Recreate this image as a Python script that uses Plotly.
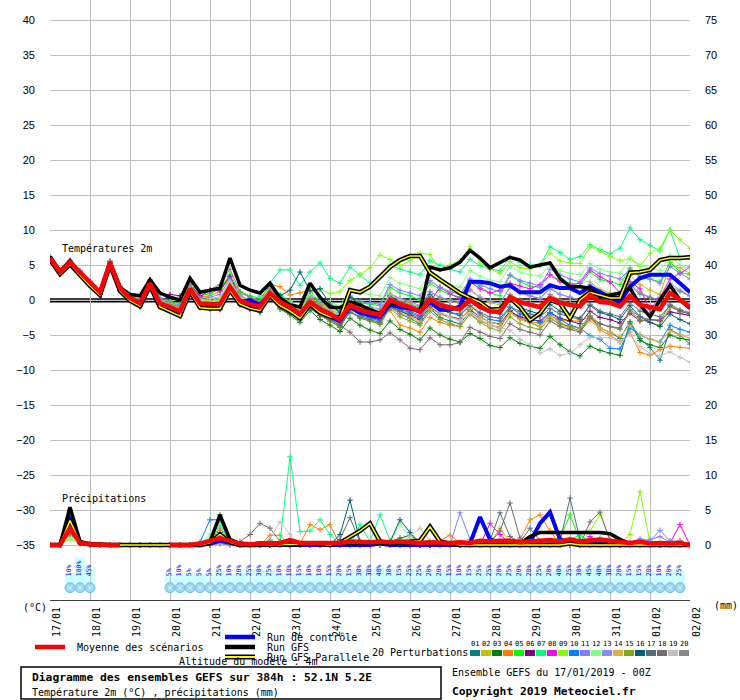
import plotly.graph_objects as go

MONO = "DejaVu Sans Mono"
SANS = "Liberation Sans"

# 6-hourly steps over 384h
STEPS = list(range(65))
HOURS = [6 * s for s in STEPS]
DAY_HOURS = list(range(0, 385, 24))
DAY_LABELS = ["17/01", "18/01", "19/01", "20/01", "21/01", "22/01", "23/01", "24/01",
              "25/01", "26/01", "27/01", "28/01", "29/01", "30/01", "31/01", "01/02", "02/02"]
TEMP_TICKS = list(range(-35, 41, 5))
PRECIP_TICKS = list(range(0, 76, 5))

# --- temperature 2m (degC) ---
T_MEAN = [6.0, 4.0, 5.4, 3.9, 2.4, 1.1, 5.3, 1.7, 0.3, -0.5, 2.4, -0.5, -1.0, -1.6, 1.6, -0.5, -0.6, -0.6, 1.9, -0.1,
          -0.6, -1.0, 1.0, -0.3, -1.0, -2.0, -0.3, -1.3, -2.0, -2.8, -0.7, -1.4, -1.8, -2.1, 0.0, -0.6, -1.0, -1.7, 0.1, -0.7,
          -1.1, -1.3, 0.0, -1.0, -1.6, -1.7, 0.4, -0.3, -0.7, -1.0, 0.3, -0.4, -0.7, -0.9, 0.7, -0.3, -0.4, -0.9, 0.6, -0.7,
          -1.0, -1.3, 1.0, 0.0, -1.0]
T_CONTROL = [6.0, 4.0, 5.4, 3.9, 2.4, 1.1, 5.3, 1.7, 0.3, -0.5, 2.4, -0.6, -1.1, -1.7, 1.6, -0.7, -0.7, -0.8, 1.8, -0.3,
             0.0, -0.7, 0.8, -0.6, -1.4, -2.4, -0.6, -1.6, -2.4, -3.0, -1.0, -1.8, -2.2, -2.4, -0.6, -1.0, -1.2, -1.6, -0.3, -1.4,
             -1.4, -0.9, 2.6, 2.6, 2.4, 1.9, 2.1, 1.1, 1.1, 1.1, 2.1, 1.7, 1.7, 1.0, 1.9, 1.1, 0.4, -0.3, 1.9, 3.1,
             3.6, 3.6, 3.6, 2.4, 1.1]
T_GFS = [6.2, 4.1, 5.6, 3.7, 2.2, 0.9, 5.4, 1.8, 0.8, 0.6, 2.9, 1.0, 0.4, 0.0, 3.1, 1.1, 1.4, 1.7, 6.0, 2.1,
         1.4, 1.0, 2.4, 0.3, -0.7, -1.0, 2.4, 0.4, -1.0, -1.1, -0.3, -0.7, -1.4, -1.9, -0.4, -0.6, -1.2, -1.6, 4.7, 4.3,
         4.6, 5.4, 7.1, 6.0, 4.6, 5.4, 6.1, 5.7, 4.7, 5.0, 5.3, 3.1, 1.9, 1.9, 1.7, 0.4, 0.7, 1.0, 1.7, -0.7,
         -2.4, 0.0, 2.1, 0.0, -1.2]
T_PARALLEL = [5.8, 3.7, 5.1, 3.5, 2.0, 0.7, 5.0, 1.3, -0.1, -0.9, 2.0, -1.0, -1.6, -2.3, 1.2, -1.1, -1.2, -1.2, 1.4, -0.6,
              -1.2, -1.5, 0.6, -0.8, -1.6, -2.6, -0.6, -1.8, -2.4, -2.5, 1.4, 1.1, 1.9, 3.3, 4.7, 5.7, 6.3, 6.3, 3.9, 2.9,
              1.9, 1.0, 0.3, -0.3, -1.4, -1.3, 0.3, -1.0, -2.9, -1.9, 0.0, -0.5, -2.6, 0.0, 1.1, 0.7, 0.3, 0.3, 3.9, 4.0,
              4.3, 5.7, 6.0, 6.0, 6.1]

T_P01 = [5.8, 3.8, 5.2, 3.6, 2.1, 0.8, 5.0, 1.4, 0.0, -0.9, 2.0, -0.9, -1.5, -2.1, 1.2, -1.0, -1.2, -1.3, 1.3, -0.6,
         -1.2, -1.6, 0.4, -1.0, -1.7, -2.8, -1.0, -2.2, -3.0, -3.9, -1.5, -2.6, -3.0, -3.4, -1.0, -2.0, -2.6, -3.4, -1.2, -2.5,
         -3.0, -3.4, -1.6, -2.8, -3.6, -4.0, -1.5, -2.6, -3.2, -3.8, -2.0, -3.3, -3.9, -4.4, -2.3, -4.0, -4.6, -5.5, -3.1, -5.5,
         -6.8, -8.6, -4.2, -5.0, -6.3]
T_P02 = [6.1, 4.1, 5.6, 4.0, 2.5, 1.2, 5.4, 1.8, 0.4, -0.3, 2.6, -0.2, -0.8, -1.4, 1.9, -0.2, -0.4, -0.3, 2.3, 0.2,
         -0.3, -0.8, 1.4, 0.2, -0.6, -1.5, 0.4, -0.6, -1.4, -2.2, 0.0, -0.8, -1.1, -1.6, 1.0, 0.2, -0.4, -1.0, 1.2, 0.3,
         -0.2, -0.5, 1.6, 0.4, -0.4, -0.7, 2.0, 1.2, 0.6, 0.2, 1.8, 0.8, 0.4, 0.0, 2.6, 1.5, 1.0, 0.3, 3.5, 2.2,
         1.4, 0.8, 5.0, 4.6, 3.8]
T_P03 = [5.9, 3.9, 5.3, 3.7, 2.2, 0.9, 5.1, 1.5, 0.1, -0.8, 2.1, -0.8, -1.3, -2.0, 1.3, -0.9, -1.1, -1.1, 1.4, -0.5,
         -1.1, -1.7, 0.3, -1.3, -2.1, -3.2, -1.5, -2.8, -3.6, -4.5, -2.6, -3.6, -4.3, -4.8, -3.0, -4.2, -4.9, -5.7, -4.0, -5.0,
         -5.6, -6.0, -4.8, -5.5, -6.5, -6.8, -5.4, -6.2, -6.6, -6.9, -5.2, -6.4, -7.4, -8.0, -6.6, -7.2, -7.6, -7.9, -3.3, -5.8,
         -6.4, -6.8, -5.0, -5.5, -5.7]
T_P04 = [6.0, 4.0, 5.5, 3.9, 2.4, 1.1, 5.2, 1.8, 0.5, -0.2, 2.6, 0.0, -0.4, -0.8, 2.2, 0.4, 0.6, 1.2, 3.3, 1.0,
         0.4, -0.2, 2.2, 1.9, 0.7, 1.0, 1.4, -0.5, -1.2, -2.0, -0.4, -1.5, -2.0, -2.6, -1.5, -3.6, -4.0, -4.6, -2.5, -3.2,
         -3.6, -3.8, -2.0, -3.0, -3.6, -3.9, -1.8, -2.6, -3.0, -3.4, -2.2, -2.9, -3.0, -3.0, -2.4, -4.3, -5.0, -6.0, -4.6, -7.5,
         -7.9, -7.1, -6.6, -6.8, -6.9]
T_P05 = [6.1, 4.2, 5.6, 4.1, 2.6, 1.3, 5.5, 1.9, 0.6, 0.0, 2.8, 0.3, -0.2, -0.6, 2.4, 0.6, 0.9, 1.6, 3.6, 1.2,
         0.6, 0.2, 2.0, 0.8, -0.2, -1.2, 0.6, -0.4, -1.0, -1.8, 0.2, -0.4, -0.6, -0.8, 1.8, 1.0, 0.6, 0.0, 2.4, 1.4,
         0.8, 0.4, 2.8, 1.9, 1.0, 0.6, 3.5, 2.6, 2.0, 1.8, 3.6, 2.8, 2.4, 2.0, 4.0, 2.9, 2.6, 2.2, 4.6, 3.3,
         3.0, 2.6, 5.4, 4.0, 3.6]
T_P06 = [6.0, 4.1, 5.5, 4.0, 2.5, 1.2, 5.4, 1.7, 0.4, -0.4, 2.5, -0.3, 0.8, 0.6, 2.3, 0.5, 1.4, 1.4, 3.4, 0.4,
         -0.2, -0.8, 1.2, -0.2, -0.9, -2.0, -0.2, -1.3, -2.2, -3.0, -1.0, -1.9, -2.5, -2.8, -0.8, -1.6, -2.2, -2.8, -1.0, -2.0,
         -2.4, -2.7, -1.4, -2.4, -3.2, -3.4, -1.6, -2.4, -2.8, -3.0, -1.8, -2.6, -3.0, -3.4, -1.6, -2.5, -2.8, -3.3, -1.9, -3.0,
         -2.8, -2.9, -1.7, -1.9, -2.2]
T_P07 = [6.1, 4.1, 5.5, 4.0, 2.5, 1.2, 5.4, 1.8, 0.5, -0.2, 2.6, 0.0, -0.5, -1.0, 2.0, 0.0, 0.2, 0.3, 2.6, 0.8,
         -0.2, 0.6, 2.4, 4.3, 4.3, 2.1, 4.0, 5.3, 3.1, 2.4, 4.7, 3.6, 2.4, 3.2, 5.0, 4.4, 4.0, 3.6, 5.6, 5.0,
         4.4, 4.0, 5.8, 4.9, 4.4, 4.2, 6.1, 5.4, 5.0, 4.9, 7.6, 6.8, 5.8, 6.2, 7.9, 7.2, 6.6, 7.4, 10.3, 8.6,
         7.8, 7.0, 10.0, 5.9, 6.3]
T_P08 = [6.0, 4.0, 5.4, 3.9, 2.4, 1.1, 5.2, 1.6, 0.2, -0.6, 2.3, -0.6, -1.1, -1.7, 1.5, -0.6, -0.7, -0.8, 1.7, -0.3,
         -0.8, -1.2, 0.8, -0.6, -1.3, -2.3, -0.6, -1.6, -2.4, -3.3, -1.1, -1.9, -2.3, -2.7, -0.5, -1.2, -1.6, -2.2, -0.3, 1.8,
         0.9, 0.2, 2.6, 1.6, 1.0, 1.4, 2.4, 2.0, 1.6, 2.2, 3.6, 2.6, 2.2, 2.4, 4.3, 3.3, 2.6, 1.0, 2.6, 1.6,
         -1.4, 0.4, 3.0, 3.8, 4.7]
T_P09 = [6.1, 4.1, 5.5, 4.0, 2.5, 1.2, 5.3, 1.7, 0.4, -0.3, 2.5, -0.2, -0.6, -1.2, 1.9, -0.2, -0.1, 0.2, 2.4, 0.3,
         -0.1, -0.5, 1.4, 0.4, -0.2, -1.0, 1.0, 1.6, 0.9, 1.2, 2.8, 3.6, 4.6, 6.4, 5.8, 4.9, 5.6, 6.7, 6.5, 4.3,
         5.0, 5.6, 7.6, 5.4, 4.4, 3.8, 5.5, 4.6, 4.4, 5.0, 6.7, 5.6, 5.3, 5.2, 7.6, 6.9, 6.2, 5.6, 5.9, 4.8,
         6.7, 7.4, 10.0, 8.6, 7.4]
T_P10 = [5.9, 3.9, 5.3, 3.8, 2.3, 1.0, 5.2, 1.6, 0.2, -0.7, 2.2, -0.7, -1.2, -1.9, 1.3, -0.8, -0.9, -1.0, 1.5, -0.4,
         -1.0, -1.4, 0.6, -0.7, -1.4, -2.4, -0.6, -1.8, -2.6, -3.4, -1.2, -2.2, -2.6, -3.0, -0.6, -1.4, -1.8, -2.4, -0.3, -1.4,
         -1.8, -2.2, -0.8, -2.0, -2.8, -3.0, -1.0, -2.0, -2.6, -3.2, -1.8, -2.8, -3.6, -4.0, -5.1, -5.6, -6.9, -7.0, -4.0, -5.0,
         -5.6, -6.0, -3.6, -4.2, -4.6]
T_P11 = [6.2, 4.2, 5.7, 4.2, 2.7, 1.4, 5.6, 2.0, 0.7, 0.1, 2.9, 0.3, -0.2, -0.8, 2.2, 0.2, 0.4, 0.8, 3.0, 0.6,
         0.0, -0.4, 1.6, 0.4, -0.3, -1.3, 0.8, -0.2, -0.8, -1.6, 0.6, -0.2, -0.4, -0.6, 2.2, 1.4, 1.0, 0.6, 2.8, 1.8,
         1.2, 0.8, 3.0, 2.2, 1.6, 1.2, 3.6, 2.8, 2.4, 2.0, 4.4, 3.6, 3.0, 2.6, 4.6, 3.8, 3.4, 3.0, 4.4, 3.4,
         3.0, 2.4, 4.8, 3.8, 3.0]
T_P12 = [6.1, 4.0, 5.5, 4.0, 2.5, 1.2, 5.3, 1.8, 0.4, -0.4, 2.5, -0.4, -0.8, -1.4, 1.8, -0.3, -0.3, -0.1, 2.2, 0.0,
         -0.4, -0.6, 1.4, 0.2, -0.4, -1.2, 0.8, 0.2, -0.4, -0.9, 1.6, 1.0, 0.8, 0.6, 3.2, 2.4, 2.0, 1.6, 3.6, 2.6,
         2.2, 1.8, 4.2, 3.4, 2.8, 2.6, 4.8, 4.0, 3.6, 3.4, 5.0, 4.2, 3.8, 3.6, 5.2, 4.4, 4.0, 3.8, 6.0, 5.0,
         4.6, 4.2, 6.4, 5.0, 4.4]
T_P13 = [6.0, 4.0, 5.4, 3.9, 2.4, 1.1, 5.3, 1.7, 0.3, -0.5, 2.4, -0.4, -0.9, -1.5, 1.7, -0.4, -0.5, -0.4, 2.1, 0.0,
         -0.5, -0.9, 1.1, -0.2, -0.9, -1.8, -0.1, -1.0, -1.7, -2.4, -0.2, -0.8, -1.0, -1.3, 0.8, 0.2, -0.2, -0.8, 1.2, 0.4,
         0.0, -0.3, 1.4, 0.4, -0.2, -0.4, 1.8, 1.0, 0.6, 0.2, 1.6, 0.8, 0.4, 0.0, 2.2, 1.2, 0.8, 0.2, 2.0, 0.8,
         0.4, 0.0, 2.4, 1.4, 0.6]
T_P14 = [5.9, 3.9, 5.3, 3.8, 2.3, 1.0, 5.2, 1.6, 0.2, -0.6, 2.3, -0.6, -1.2, -1.8, 1.4, -0.7, -0.8, -0.9, 1.6, -0.4,
         -0.9, -1.4, 0.6, -0.7, -1.5, -2.5, -0.8, -1.9, -2.7, -3.6, -1.5, -2.4, -2.9, -3.3, -1.0, -1.9, -2.4, -3.1, -1.2, -2.0,
         -2.5, -2.8, -1.2, -2.4, -3.2, -3.5, -1.8, -2.8, -3.3, -3.8, -2.4, -3.6, -4.0, -4.4, -3.0, -4.0, -4.6, -5.2, -3.6, -5.0,
         -5.6, -6.0, -4.4, -5.0, -5.4]
T_P15 = [5.9, 3.8, 5.2, 3.7, 2.2, 0.9, 5.1, 1.5, 0.1, -0.8, 2.1, -0.8, -1.4, -2.1, 1.2, -1.0, -1.2, -1.3, 1.3, -0.7,
         -1.2, -1.6, 0.4, -1.0, -1.8, -2.8, -1.1, -2.2, -3.0, -3.8, -1.6, -2.6, -3.0, -3.5, -1.2, -2.4, -3.0, -3.6, -1.6, -2.8,
         -3.4, -3.8, -2.0, -3.2, -4.0, -4.4, -2.4, -3.4, -3.9, -4.2, -2.6, -3.4, -3.8, -4.0, -2.2, -3.4, -3.8, -4.2, -1.6, -2.8,
         -3.2, -3.6, -1.0, -1.6, -2.0]
T_P16 = [5.9, 3.9, 5.3, 3.8, 2.3, 1.0, 5.2, 1.6, 0.2, -0.6, 2.3, -0.6, -1.1, -1.8, 1.5, -0.6, -0.7, -0.7, 1.8, -0.2,
         -0.7, -1.0, 1.0, 0.6, 1.4, 4.0, 1.3, 1.6, -0.6, -1.8, 0.4, -0.6, -1.2, -1.8, 0.6, -0.2, -0.6, -1.2, 0.8, -0.4,
         -1.0, -1.4, 0.2, -1.0, -1.8, -2.0, 0.0, -1.0, -1.6, -2.0, -0.6, -1.6, -2.2, -2.6, -0.8, -1.8, -2.2, -2.8, -0.8, -2.4,
         -3.2, -3.8, -2.0, -2.8, -3.4]
T_P17 = [5.8, 3.8, 5.2, 3.6, 2.1, 0.8, 5.0, 1.4, 0.0, -0.9, 2.0, -0.9, -1.5, -2.3, 1.1, -1.1, -1.3, -1.4, 1.2, -0.7,
         -1.3, -1.8, 0.2, -1.1, -1.8, -2.8, -1.2, -2.2, -2.8, -3.6, -1.8, -2.4, -2.8, -3.2, -1.0, -1.6, -2.0, -2.6, -0.6, -1.4,
         -1.8, -2.0, -0.8, -1.8, -2.4, -2.6, -1.0, -1.6, -2.0, -2.4, -1.2, -2.0, -2.4, -2.8, -0.6, -1.6, -2.0, -2.4, -0.4, -1.6,
         -2.0, -2.4, -0.8, -1.6, -2.0]
T_P18 = [6.0, 4.0, 5.4, 3.9, 2.4, 1.1, 5.3, 1.7, 0.3, -0.5, 2.4, -0.5, -1.0, -1.7, 1.5, -0.6, -0.6, -0.7, 1.8, -0.3,
         -0.8, -1.3, 0.6, -0.7, -1.4, -2.5, -1.0, -2.2, -2.8, -3.6, -4.6, -6.0, -6.0, -5.7, -4.7, -5.7, -6.9, -7.1, -5.4, -6.4,
         -6.4, -6.1, -3.9, -4.6, -5.2, -5.5, -3.4, -4.2, -4.6, -5.0, -3.0, -3.8, -4.2, -4.6, -2.6, -3.4, -3.8, -4.0, -1.4, -2.4,
         -2.8, -3.0, -0.6, -1.4, -1.8]
T_P19 = [6.0, 4.0, 5.4, 3.9, 2.4, 1.1, 5.3, 1.7, 0.3, -0.5, 2.5, -0.3, -0.8, -1.2, 2.0, 0.0, 0.2, 0.4, 2.6, 0.4,
         0.0, -0.4, 1.4, 0.0, -0.8, -1.6, 0.2, -0.8, -1.4, -2.0, -0.2, -1.0, -1.4, -1.8, 0.8, 0.0, -0.6, -1.4, -0.4, -1.6,
         -2.4, -3.0, -1.8, -2.8, -3.6, -4.0, -4.3, -5.6, -6.4, -7.6, -7.0, -7.9, -7.6, -6.4, -5.3, -5.4, -5.4, -6.0, -5.0, -6.7,
         -7.6, -8.0, -7.4, -8.2, -8.9]
T_P20 = [6.1, 4.2, 5.6, 4.1, 2.6, 1.3, 5.6, 1.9, 0.5, -0.3, 2.7, -0.2, -0.6, -1.0, 2.2, 0.3, 1.5, 2.2, 4.4, 1.2,
         0.4, -0.2, 1.6, 0.2, -0.6, -1.6, 0.2, -0.8, -1.6, -2.4, -0.4, -1.2, -1.6, -2.0, 0.4, -0.4, -0.8, -1.4, 0.6, -0.4,
         -0.8, -1.2, 0.4, -0.6, -1.2, -1.4, 0.8, 0.0, -0.4, -0.8, 0.8, 0.0, -0.4, -0.8, 1.4, 0.4, 0.0, -0.6, 2.2, 1.0,
         0.4, -0.4, 2.0, 1.2, 0.6]

# --- precipitation per 6h (mm), right axis ---
P_MEAN = [0, 0, 2.4, 0.3, 0.1, 0, 0, 0, None, None, None, None, 0, 0, 0, 0.2, 0.6, 1.0, 0.6, 0.2,
          0.1, 0.2, 0.2, 0.3, 0.7, 0.3, 0.3, 0.3, 0.3, 0.3, 0.5, 0.4, 0.4, 0.5, 0.4, 0.5, 0.4, 0.3, 0.4, 0.3,
          0.3, 0.4, 0.3, 0.6, 0.5, 0.6, 0.6, 0.4, 0.5, 0.7, 0.7, 0.5, 0.8, 0.5, 0.6, 0.8, 0.6, 0.4, 0.3, 0.5,
          0.2, 0.3, 0.2, 0.3, 0]
P_CONTROL = [0, 0, 4.0, 0.4, 0.1, 0, 0, 0, 0, 0, 0, 0, 0, 0, 0, 0, 0.2, 0.6, 0.3, 0,
             0, 0, 0.1, 0, 0, 0, 0, 0, 0, 0, 0.1, 0, 0, 0.2, 0, 0, 0, 0, 0, 0,
             0, 0, 0.2, 4.0, 0.8, 0.3, 0.2, 0, 0.4, 3.1, 4.7, 0.8, 0.3, 0.2, 0.6, 0.4, 0.2, 0.1, 0, 0,
             0, 0.2, 0.1, 0, 0]
P_GFS = [0, 0, 5.4, 0.5, 0.1, 0, 0, 0, 0, 0, 0, 0, 0, 0, 0, 0, 0.5, 4.3, 0.8, 0.2,
         0.1, 0.3, 0.2, 0, 0, 0.2, 0.3, 0.2, 0.1, 0.1, 0.3, 0.2, 0.4, 0.2, 0.1, 0.3, 0.2, 0.1, 0.2, 0.1,
         0, 0, 0, 0, 0, 0, 0, 0.2, 1.2, 1.8, 1.8, 1.8, 1.8, 1.8, 1.8, 1.8, 1.6, 0.8, 0.2, 0,
         0, 0, 0, 0, 0]
P_PARALLEL = [0, 0, 3.5, 0.3, 0.1, 0, 0, 0, 0, 0, 0, 0, 0, 0, 0, 0, 0.3, 1.5, 0.4, 0,
              0, 0, 0, 0, 0, 0.1, 0.2, 0.1, 0, 0.3, 1.2, 2.0, 3.1, 0.5, 0.2, 0.3, 0.4, 0.6, 2.6, 0.5,
              0.2, 0, 0, 0, 0, 0.1, 0, 0, 0, 0, 0, 0, 0.2, 0, 0, 0, 0, 0, 0, 0,
              0, 0, 0, 0, 0]

P_P01 = [0, 0, 4.5, 0.4, 0.1, 0, 0, 0, 0, 0, 0, 0, 0, 0, 0, 0, 0.5, 1.2, 0.5, 0,
         0, 0, 0, 0, 0.2, 0, 0, 0, 0, 0, 0.3, 0.2, 0, 0, 0.3, 0.5, 0.2, 0, 0, 0,
         0, 0, 0, 0, 0, 0, 0.3, 0.2, 0, 0, 0, 0, 0.3, 0.6, 0.4, 0.2, 0, 0, 0, 0,
         0, 0, 0, 0, 0]
P_P02 = [0, 0, 3.0, 0.3, 0.1, 0, 0, 0, 0, 0, 0, 0, 0, 0, 0, 0, 0.2, 0.8, 0.3, 0,
         0, 0, 0, 0, 0, 0, 0, 0, 0, 0, 0, 0, 0, 0, 0, 0.3, 0.2, 0, 0, 0,
         0, 0, 0, 0, 0.3, 2.4, 0.4, 0, 0, 0, 0, 0, 0.2, 0, 0, 0, 0, 0, 0, 0,
         0, 0, 0, 0.2, 0]
P_P03 = [0, 0, 5.0, 0.5, 0.1, 0, 0, 0, 0, 0, 0, 0, 0, 0, 0, 0.2, 0.8, 4.3, 0.6, 0,
         0, 0, 0, 0, 0, 0, 0, 0, 0, 0, 0, 0, 0, 0.1, 0.5, 1.0, 1.4, 0.4, 0, 0,
         0, 0, 0, 0, 0, 0, 0, 0, 0, 0, 0, 0, 0, 0, 0, 0, 0, 0, 0, 0,
         0, 0, 0, 0, 0]
P_P04 = [0, 0, 3.8, 0.3, 0.1, 0, 0, 0, 0, 0, 0, 0, 0, 0, 0, 0, 0.4, 2.4, 0.5, 0,
         0, 0, 1.4, 1.4, 0, 0.2, 2.9, 2.2, 2.9, 0, 0, 0, 0, 0, 0, 0, 0, 0.2, 0.4, 0.6,
         1.4, 0.3, 0, 0, 0, 0, 0, 0.8, 3.6, 4.3, 2.0, 0.2, 0, 0, 0, 0, 0, 0, 0, 0,
         0, 0, 0, 0.4, 0]
P_P05 = [0, 0, 2.2, 0.2, 0.1, 0, 0, 0, 0, 0, 0, 0, 0, 0, 0, 0, 0.5, 3.8, 0.8, 0,
         0, 0, 0, 0, 0, 0, 0, 0, 0, 0, 0, 0, 0, 0, 0, 0, 0, 0, 0, 0,
         0, 0, 0, 0, 0, 0, 0, 0, 0, 0.3, 0.6, 1.0, 4.3, 0.6, 0, 0, 0, 0, 0, 0,
         0, 0, 0, 0, 0]
P_P06 = [0, 0, 4.2, 0.4, 0.1, 0, 0, 0, 0, 0, 0, 0, 0, 0, 0, 0, 0, 0.6, 0.3, 0,
         0, 0, 0, 0, 0, 0, 0, 0, 0, 0, 0, 0, 0, 0, 0, 0, 0, 0, 0, 0,
         0, 0, 0, 0, 0, 0, 0, 0, 0, 0, 0, 0, 0, 0, 0.4, 0.6, 0.3, 0, 0, 0,
         0, 0, 0, 0, 0]
P_P07 = [0, 0, 4.8, 0.5, 0.1, 0, 0, 0, 0, 0, 0, 0, 0, 0, 0, 0, 0.3, 2.8, 0.4, 0,
         0, 0, 0.2, 0.5, 12.6, 1.9, 2.0, 3.6, 1.5, 0, 0, 2.9, 0.5, 4.3, 0.6, 0.3, 0, 0, 0, 0,
         0, 0, 0, 0, 0, 0, 0, 0, 0, 0, 0, 0, 0.8, 1.4, 0.5, 0, 0, 0, 0, 0,
         0, 0, 0, 0, 0]
P_P08 = [0, 0, 3.2, 0.3, 0.1, 0, 0, 0, 0, 0, 0, 0, 0, 0, 0, 0, 0, 0.3, 0.1, 0,
         0, 0, 0, 0, 0, 0, 0, 0, 0, 0, 0, 0, 0, 0, 0, 0, 0, 0, 0, 0,
         0, 0, 0, 0, 3.1, 1.5, 0.2, 0, 0, 0, 0, 0, 0, 0, 1.2, 0.4, 0, 0, 0, 0,
         0, 0, 0.3, 2.9, 0]
P_P09 = [0, 0, 1.0, 0.2, 0, 0, 0, 0, 0, 0, 0, 0, 0, 0, 0, 0, 0.8, 3.5, 0.4, 0,
         0, 0, 0, 0, 0, 0, 0, 0, 0, 0, 0, 0, 0, 0, 0, 0, 0, 0, 0, 0,
         0, 0, 0, 0, 0, 0, 0, 0, 0, 0, 0, 0, 0, 0, 2.0, 4.4, 0.8, 0.2, 1.5, 7.6,
         0.3, 0, 0, 0, 0]
P_P10 = [0, 0, 4.4, 0.4, 0.1, 0, 0, 0, 0, 0, 0, 0, 0, 0, 0, 0.4, 3.6, 3.6, 0.2, 0,
         0, 0, 0, 0, 0, 0, 0, 0, 0, 0, 0, 0, 0, 0, 0, 0, 0, 0, 0, 0,
         0, 0, 0, 0, 0, 0, 0, 0, 0, 0, 0, 0.2, 0.4, 0.3, 0, 0, 0, 0, 0, 0,
         0, 0, 0, 0, 0]
P_P11 = [0, 0, 3.5, 0.3, 0.1, 0, 0, 0, 0, 0, 0, 0, 0, 0, 0, 0, 0, 0.4, 0.1, 0,
         0, 0, 0, 0, 0, 0, 0, 0, 0, 0, 0, 0, 0, 0, 0, 0, 0.3, 0.8, 0.2, 0,
         0, 4.6, 0.8, 0.2, 0, 0, 0, 0, 0, 0, 0, 0, 0, 0, 0, 0, 0, 0, 0.3, 0.9,
         0.6, 2.1, 0.6, 0.4, 0]
P_P12 = [0, 0, 0.8, 0.3, 0.1, 0, 0, 0, 0, 0, 0, 0, 0, 0, 0, 0, 1.5, 1.2, 0.3, 0,
         0, 0, 0, 0, 0, 0, 0, 0, 0, 0, 0, 0, 0.4, 0.6, 0.3, 3.0, 1.0, 0.4, 0, 0,
         0, 0, 0, 0, 0, 0, 0, 0, 0, 0, 0, 0, 0, 0, 0, 0, 0, 0, 0, 0,
         0, 0, 0, 0, 0]
P_P13 = [0, 0, 2.8, 0.3, 0.1, 0, 0, 0, 0, 0, 0, 0, 0, 0, 0, 0, 0, 0.3, 0.1, 0,
         0, 0, 0, 0, 0, 0, 0, 0, 0, 0, 0, 0, 0, 0, 0, 0, 0, 0, 0, 0,
         0, 0, 0, 0, 0, 0, 0, 0, 0, 0, 0, 0, 0, 0, 0, 0, 0, 0, 0.4, 0.3,
         0.8, 1.2, 0.4, 0, 0]
P_P14 = [0, 0, 2.5, 0.3, 0.1, 0, 0, 0, 0, 0, 0, 0, 0, 0, 0, 0, 0, 0.4, 0.1, 0,
         0, 0, 0, 0, 0, 0, 0, 0, 0, 0, 0, 0, 0, 0, 0, 0, 0, 0, 0, 0,
         0, 0, 0, 0, 0, 0, 0, 0.5, 0.8, 0.3, 0, 0, 0, 0, 0, 0, 0, 0, 0, 0,
         0, 0, 0.3, 0.6, 0]
P_P15 = [0, 0, 2.0, 0.2, 0.1, 0, 0, 0, 0, 0, 0, 0, 0, 0, 0, 0, 0, 0.5, 0.2, 0,
         0, 0, 0, 0, 0, 0, 0, 0, 0, 0, 0, 0, 0, 0, 0, 0, 0, 0, 0, 0,
         0, 0, 0, 0, 0, 0, 0, 0, 0, 0, 0, 0, 0, 0, 0.4, 1.0, 0.6, 0, 0, 0,
         0, 0, 0, 0, 0]
P_P16 = [0, 0, 4.6, 0.4, 0.1, 0, 0, 0, 0, 0, 0, 0, 0, 0, 0, 0, 0.3, 1.8, 0.3, 0,
         0, 0, 0, 0, 0, 0, 0, 0, 0, 1.5, 6.4, 0.5, 0, 0, 0.4, 3.6, 1.8, 0.3, 0, 0,
         0, 0, 0, 0, 0, 0, 0, 0, 0, 0, 0, 0, 0, 0, 0, 0, 0, 0, 0, 0,
         0, 0, 0, 0, 0]
P_P17 = [0, 0, 3.9, 0.4, 0.1, 0, 0, 0, 0, 0, 0, 0, 0, 0, 0, 0, 0, 0.6, 0.2, 0,
         0, 0, 0, 0, 0, 0, 0, 0, 0, 0.8, 3.9, 0.4, 0, 0, 0, 0, 0, 0, 0, 0,
         0, 0, 0, 0, 0.6, 4.6, 1.2, 0.4, 2.4, 0.6, 0.3, 0.5, 6.7, 0.8, 0.3, 0, 0, 0, 0, 0,
         0, 0, 0, 0, 0]
P_P18 = [0, 0, 1.5, 0.2, 0, 0, 0, 0, 0, 0, 0, 0, 0, 0, 0, 0, 0, 0.2, 0, 0.5,
         1.5, 3.1, 2.4, 0.5, 0, 0, 0, 0, 0, 0, 0, 0, 0, 0, 0, 0, 0, 0, 0, 0,
         0, 0, 0, 0, 0.3, 2.0, 6.0, 1.0, 0, 0, 0, 0, 0, 0, 3.3, 4.7, 0.6, 0, 0, 0,
         0, 0, 0, 0, 0]
P_P19 = [0, 0, 2.6, 0.3, 0.1, 0, 0, 0, 0, 0, 0, 0, 0, 0, 0, 0, 0, 0.3, 0.1, 0,
         0, 0, 0.8, 3.3, 1.5, 0, 0, 0, 0, 0, 0, 0, 0, 0, 0, 0.5, 1.2, 2.4, 0.6, 0,
         0, 0, 0, 0, 0, 0, 0, 0, 0, 0, 0, 0, 0, 0, 0, 0, 0, 0, 0, 0,
         0, 0, 0, 0, 0]
P_P20 = [0, 0, 1.7, 0.3, 0.1, 0, 0, 0, 0, 0, 0, 0, 0, 0, 0, 0, 0, 0.4, 0.2, 0,
         0, 0.2, 0.6, 0.4, 0, 0, 0, 0, 0, 0, 0, 0, 0, 0, 0, 0, 0, 0, 0, 0,
         0, 0, 0, 0, 0, 0, 0, 0, 0, 0, 0, 0, 0, 0, 0, 0, 0, 0, 0, 0,
         0, 0, 0.5, 0.6, 0]

# probability of precipitation (%) per step
PRECIP_PROBA = [None, None, 10, 100, 45, None, None, None, None, None, None, None,
                5, 10, 5, 5, 5, 25, 10, 20, 25, 30, 25, 10, 10, 15, 10, 10, 15, 20,
                15, 30, 30, 40, 30, 15, 25, 25, 20, 20, 15, 10, 15, 25, 25, 20, 25, 20,
                20, 25, 20, 40, 25, 30, 45, 40, 30, 20, 15, 15, 20, 10, 20, 25, None]

PERT_NAMES = ["01", "02", "03", "04", "05", "06", "07", "08", "09", "10",
              "11", "12", "13", "14", "15", "16", "17", "18", "19", "20"]
PERT_COLORS = ["#008080", "#c0c000", "#008000", "#ff8000", "#00ff00", "#800080", "#00ff80",
               "#ff00ff", "#80ff00", "#0080ff", "#8080ff", "#80ff80", "#8888ff", "#e0b040",
               "#80a810", "#006078", "#507078", "#786870", "#c0c0c0", "#888888"]

pert_temp = [T_P01, T_P02, T_P03, T_P04, T_P05, T_P06, T_P07, T_P08, T_P09, T_P10,
             T_P11, T_P12, T_P13, T_P14, T_P15, T_P16, T_P17, T_P18, T_P19, T_P20]
pert_precip = [P_P01, P_P02, P_P03, P_P04, P_P05, P_P06, P_P07, P_P08, P_P09, P_P10,
               P_P11, P_P12, P_P13, P_P14, P_P15, P_P16, P_P17, P_P18, P_P19, P_P20]

for s in pert_temp + pert_precip + [T_MEAN, T_CONTROL, T_GFS, T_PARALLEL,
                                    P_MEAN, P_CONTROL, P_GFS, P_PARALLEL, PRECIP_PROBA]:
    assert len(s) == len(STEPS), len(s)

fig = go.Figure()


def add_series(y, color, width, axis="y", markers=False):
    fig.add_trace(go.Scatter(
        x=HOURS, y=y, yaxis=axis, mode="lines+markers" if markers else "lines",
        line=dict(color=color, width=width), connectgaps=False,
        marker=dict(symbol="cross-thin", size=4, line=dict(width=1, color=color)),
        hoverinfo="skip", showlegend=False))


# perturbations
for temp, prec, col in zip(pert_temp, pert_precip, PERT_COLORS):
    add_series(temp, col, 1, "y", True)
    add_series(prec, col, 1, "y2", True)

# control, GFS, parallel, mean
for axis, ctrl, gfs, par, mean in [("y", T_CONTROL, T_GFS, T_PARALLEL, T_MEAN),
                                   ("y2", P_CONTROL, P_GFS, P_PARALLEL, P_MEAN)]:
    add_series(ctrl, "#0000ff", 4, axis)
    add_series(gfs, "#000000", 3.5, axis)
    add_series(par, "#000000", 4.5, axis)
    add_series(par, "#ffff00", 1.5, axis)
    add_series(mean, "#ff0000", 4.5, axis)

# probability strip: background bars, labels, rain icons
PX = 7.0  # pixels per degree on the left axis
shapes = []
annotations = []
icon_x = []
for h, p in zip(HOURS, PRECIP_PROBA):
    if p is None:
        continue
    base = -40.43
    shapes.append(dict(type="rect", xref="x", yref="y", x0=h - 3, x1=h + 3,
                       y0=base, y1=base + (8 + 18 * p / 100) / PX,
                       fillcolor="#ccffff", line=dict(width=0), layer="below"))
    annotations.append(dict(x=h - 0.4, y=-39.7, xref="x", yref="y", text=f"{p}%",
                            textangle=-90, showarrow=False, xanchor="center", yanchor="bottom",
                            font=dict(family=MONO, size=6.5, color="#0000ff")))
    icon_x.append(h)

fig.add_trace(go.Scatter(x=icon_x, y=[-41.1] * len(icon_x), mode="markers",
                         marker=dict(symbol="circle", size=10, color="#9ad6f4",
                                     line=dict(width=1, color="#6cbfe8")),
                         hoverinfo="skip", showlegend=False))
fig.add_trace(go.Scatter(x=icon_x, y=[-41.1] * len(icon_x), mode="markers",
                         marker=dict(symbol="x-thin", size=4,
                                     line=dict(width=1, color="#e8f8ff")),
                         hoverinfo="skip", showlegend=False))

# 0 degC double line
for yv in (0.15, -0.25):
    shapes.append(dict(type="line", xref="paper", yref="y", x0=0, x1=1, y0=yv, y1=yv,
                       line=dict(color="#000000", width=1.5), layer="between"))


def px_x(px):
    return (px - 50) / 640


def px_y(py):
    return (600 - py) / 600


def note(text, x, y, size=10, bold=False, anchor="left", ref="paper", family=MONO):
    annotations.append(dict(
        x=x, y=y, xref=ref, yref=ref, text=f"<b>{text}</b>" if bold else text,
        showarrow=False, xanchor=anchor, yanchor="middle",
        font=dict(family=family, size=size, color="#000000")))


annotations.append(dict(x=6, y=7.3, xref="x", yref="y", text="Températures 2m", showarrow=False,
                        xanchor="left", yanchor="middle", font=dict(family=MONO, size=10, color="#000")))
annotations.append(dict(x=6, y=-28.4, xref="x", yref="y", text="Précipitations", showarrow=False,
                        xanchor="left", yanchor="middle", font=dict(family=MONO, size=10, color="#000")))

note("(°C)", px_x(21), px_y(607))
note("(mm)", px_x(712), px_y(605))

# legend lines
for x0, x1, yy, col, w in [(35, 65, 647, "#ff0000", 4.5), (225, 255, 637, "#0000ff", 4.5),
                           (225, 255, 647, "#000000", 4.5), (225, 255, 657, "#000000", 5),
                           (225, 255, 657, "#ffff00", 2)]:
    shapes.append(dict(type="line", xref="paper", yref="paper", x0=px_x(x0), x1=px_x(x1),
                       y0=px_y(yy), y1=px_y(yy), line=dict(color=col, width=w)))
note("Moyenne des scénarios", px_x(75), px_y(647))
note("Run de contrôle", px_x(265), px_y(637))
note("Run GFS", px_x(265), px_y(647))
note("Run GFS Parallele", px_x(265), px_y(657))
note("Altitude du modèle : 4m", px_x(248), px_y(661), anchor="center")
note("20 Perturbations", px_x(370), px_y(652))
for k, (name, col) in enumerate(zip(PERT_NAMES, PERT_COLORS)):
    note(name, px_x(475 + 11 * k), px_y(644), size=7, anchor="center")
    shapes.append(dict(type="rect", xref="paper", yref="paper",
                       x0=px_x(470 + 11 * k), x1=px_x(480 + 11 * k),
                       y0=px_y(656), y1=px_y(650), fillcolor=col, line=dict(width=0)))

# title box
shapes.append(dict(type="rect", xref="paper", yref="paper", x0=px_x(21), x1=px_x(441),
                   y0=px_y(699), y1=px_y(667), line=dict(color="#000000", width=1.5)))
note("Diagramme des ensembles GEFS sur 384h : 52.1N 5.2E", px_x(30), px_y(677), size=11.3, bold=True)
note("Température 2m (°C) , précipitations (mm)", px_x(30), px_y(692), size=10)
note("Ensemble GEFS du 17/01/2019 - 00Z", px_x(450), px_y(672), size=10)
note("Copyright 2019 Meteociel.fr", px_x(450), px_y(691), size=11.3, bold=True)

fig.update_layout(
    width=740, height=700,
    margin=dict(l=50, r=50, t=0, b=100, autoexpand=False),
    paper_bgcolor="#ffffff", plot_bgcolor="#ffffff",
    showlegend=False,
    shapes=shapes, annotations=annotations,
    xaxis=dict(range=[0, 384], tickvals=DAY_HOURS, ticktext=DAY_LABELS, tickangle=-90,
               showgrid=True, gridcolor="#c0c0c0", gridwidth=1, zeroline=False,
               showline=True, linecolor="#404040", linewidth=1, ticks="",
               ticklabelshift=7, ticklabelstandoff=2, automargin=False,
               tickfont=dict(family=MONO, size=10, color="#000000")),
    yaxis=dict(range=[-300 / 7, 300 / 7], tickvals=TEMP_TICKS, showgrid=True,
               gridcolor="#c0c0c0", gridwidth=1, zeroline=False, ticks="",
               ticklabelstandoff=14, automargin=False,
               tickfont=dict(family=SANS, size=11, color="#000000")),
    yaxis2=dict(range=[-55 / 7, 545 / 7], tickvals=PRECIP_TICKS, overlaying="y", side="right",
                showgrid=False, zeroline=False, ticks="", ticklabelstandoff=14, automargin=False,
                tickfont=dict(family=SANS, size=11, color="#000000")),
)

# the page body has a default margin; remove it so the figure sits at the window corner
fig.write_html("out.html", config={"displayModeBar": False},
               post_script="document.body.style.margin='0';")
